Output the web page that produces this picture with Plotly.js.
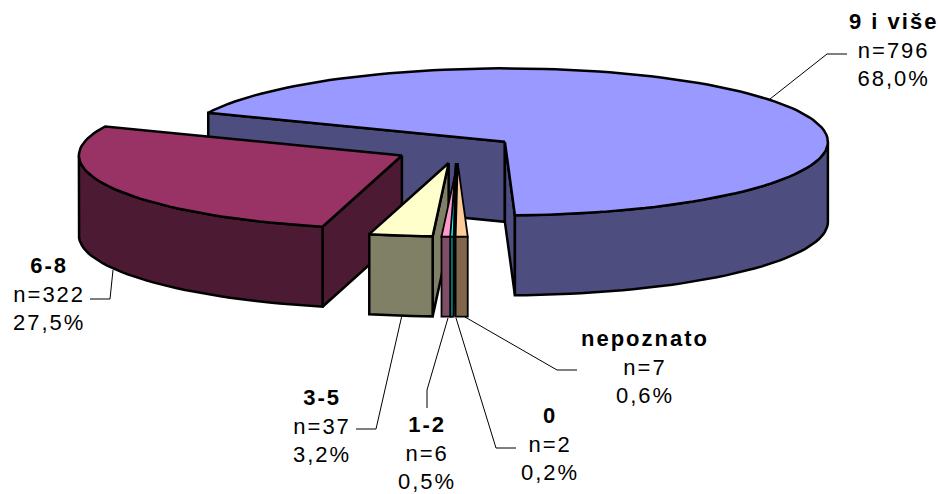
<!DOCTYPE html>
<html><head><meta charset="utf-8">
<script src="https://cdn.plot.ly/plotly-3.0.1.min.js"></script>
<style>html,body{margin:0;padding:0;background:#fff}
#c{width:938px;height:494px}
.annotation-text{letter-spacing:2px}</style></head>
<body><div id="c"></div>
<script>
// Data, clockwise from the start of the largest slice
const categories = ['9 i više','nepoznato','0','1-2','3-5','6-8'];
const counts = [796,7,2,6,37,322];
const percents = [68.0,0.6,0.2,0.5,3.2,27.5];
const topColors = ['#9999FF','#FFCC99','#00FFFF','#FF99CC','#FFFFCC','#993366'];
const sideColors = ['#4D4D80','#80664D','#008080','#804D66','#808066','#4D1A33'];

// Projection of the pie
const CX=455.5, CY=149.5, RX=323, RY=73.5, DEPTH=80, EXPLODE=0.185, START=156.7;
const nudgeX=[0,1.5,1,4,2,0];
const strokeW=[2.5,1.8,1.8,1.8,2.5,2.5];
const rad=d=>d*Math.PI/180;
const traces=[];
function poly(pts,color,w){
  const x=pts.map(p=>p[0]).concat(pts[0][0]);
  const y=pts.map(p=>p[1]).concat(pts[0][1]);
  traces.push({type:'scatter',mode:'lines',x,y,fill:'toself',fillcolor:color,
    line:{color:'#000',width:w,shape:'linear'},hoverinfo:'skip',showlegend:false});
}
let ang=START; const total=counts.reduce((a,b)=>a+b,0);
const slices=counts.map((c,i)=>{
  const a0=ang, a1=ang-c/total*360; ang=a1;
  const mid=(a0+a1)/2;
  return {i,a0,a1,ax:CX+nudgeX[i]+EXPLODE*RX*Math.cos(rad(mid)),ay:CY-EXPLODE*RY*Math.sin(rad(mid))};
});
function pt(s,a,dz){return [s.ax+RX*Math.cos(rad(a)),s.ay-RY*Math.sin(rad(a))+(dz||0)];}
function arc(s,a,b,dz){const n=Math.max(2,Math.ceil(Math.abs(a-b)/2));const r=[];
  for(let k=0;k<=n;k++)r.push(pt(s,a+(b-a)*k/n,dz));return r;}
function drawSlice(s){
  const apex=[s.ax,s.ay], apexB=[s.ax,s.ay+DEPTH];
  const side=sideColors[s.i], top=topColors[s.i], w=strokeW[s.i];
  // cut faces, only those turned towards the viewer
  if(Math.cos(rad(s.a0))<0) poly([apex,pt(s,s.a0),pt(s,s.a0,DEPTH),apexB],side,w);
  if(Math.cos(rad(s.a1))>0) poly([apex,pt(s,s.a1),pt(s,s.a1,DEPTH),apexB],side,w);
  // outer wall: only the part of the rim on the front half of the ellipse
  const hi=Math.min(s.a0,0), lo=Math.max(s.a1,-180);
  if(hi>lo) poly(arc(s,hi,lo,0).concat(arc(s,lo,hi,DEPTH)),side,w);
  poly([apex].concat(arc(s,s.a0,s.a1,0)),top,w);
}
// back-to-front painting order
[0,5,4,3,2,1].forEach(i=>drawSlice(slices[i]));

const labelPos=[[893,7],[645,324],[550,401],[427,410],[322,383],[49,251]];
const annotations=categories.map((c,i)=>({
  x:labelPos[i][0],y:labelPos[i][1],xref:'x',yref:'y',xanchor:'center',yanchor:'top',showarrow:false,
  align:'center',
  text:'<b>'+c+'</b><br>n='+counts[i]+'<br>'+percents[i].toFixed(1).replace('.',',')+'%',
  font:{family:'Liberation Sans, Arial, sans-serif',size:22,color:'#000'}
}));
const leaders=[
 'M770,99L827,54L847,54','M465,317L557,370L577,370','M456,318L496,448L516,448',
 'M448,318L427,390L427,408','M402,315L376,429L356,429','M113,270L110,299L90,299'];
const shapes=leaders.map(p=>({type:'path',path:p,xref:'x',yref:'y',line:{color:'#000',width:1}}));

Plotly.newPlot('c',traces,{
  width:938,height:494,margin:{l:0,r:0,t:0,b:0},paper_bgcolor:'#fff',plot_bgcolor:'#fff',
  showlegend:false,hovermode:false,
  xaxis:{range:[0,938],visible:false,fixedrange:true},
  yaxis:{range:[494,0],visible:false,fixedrange:true},
  annotations,shapes
},{displayModeBar:false,staticPlot:true});
</script></body></html>
